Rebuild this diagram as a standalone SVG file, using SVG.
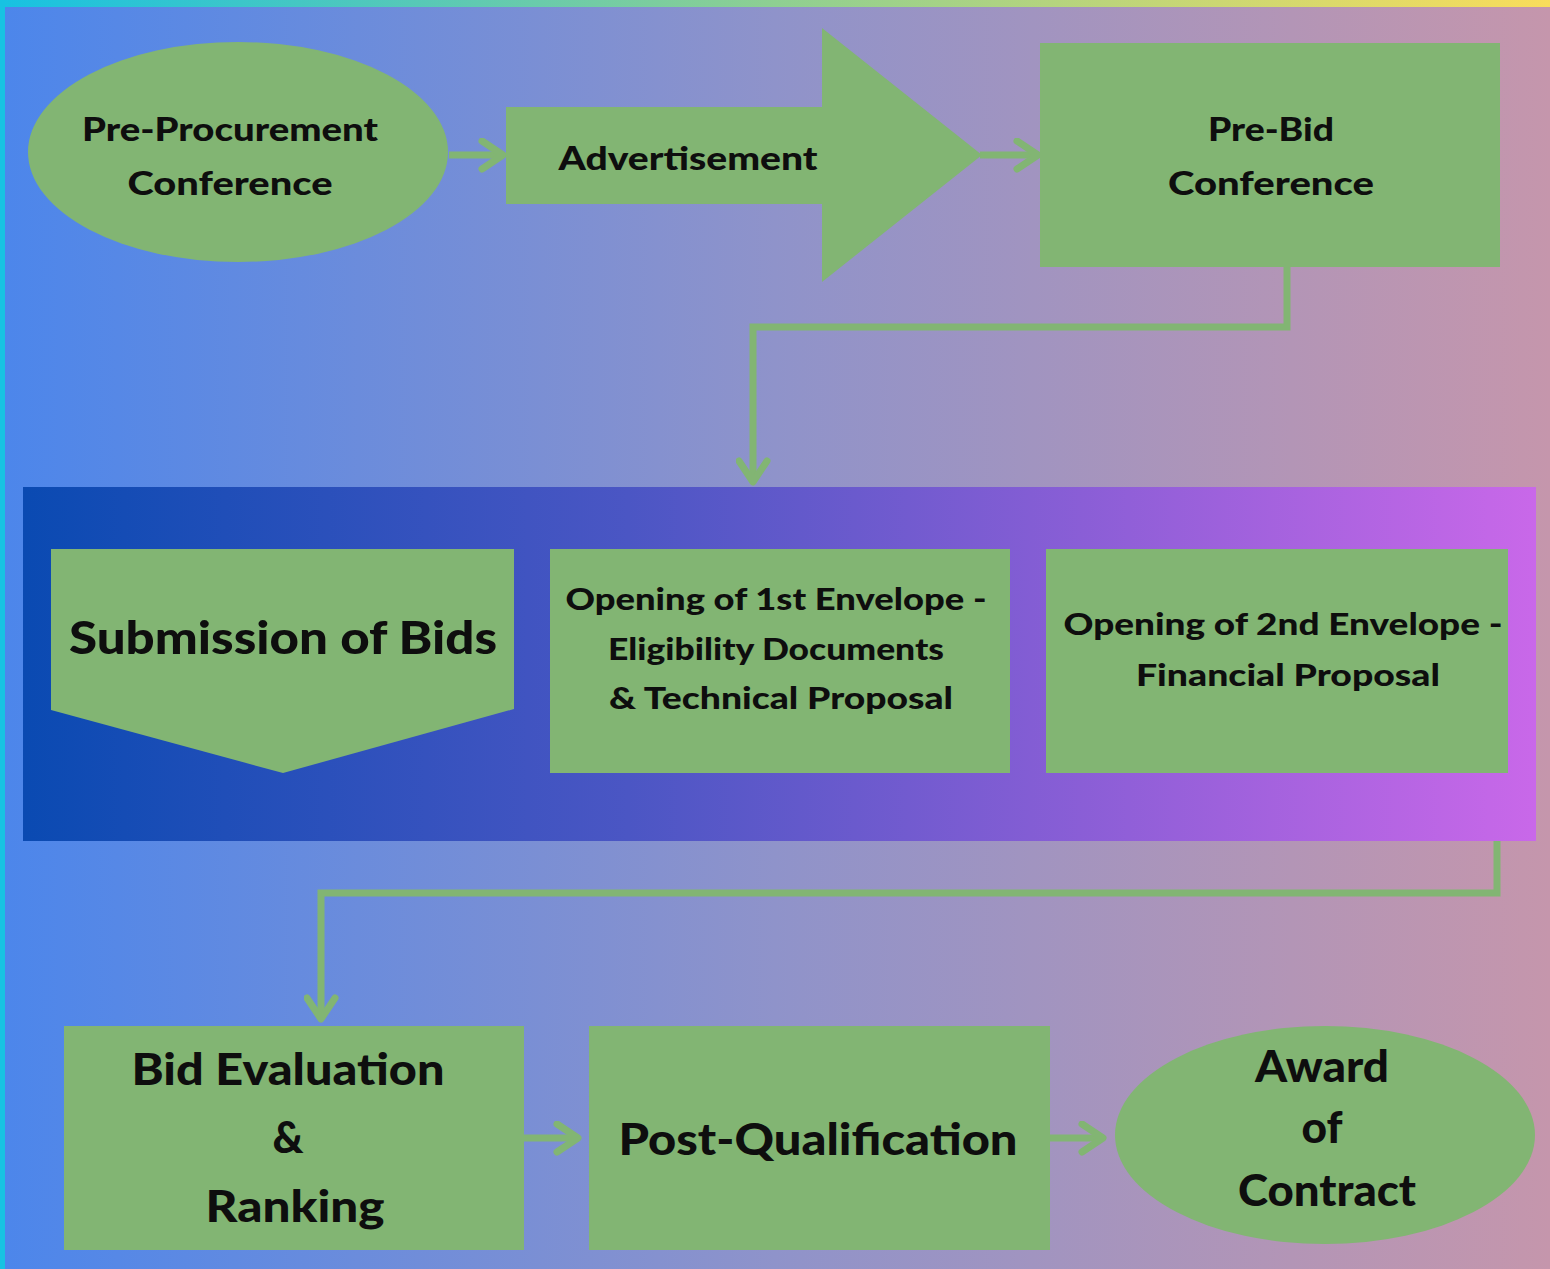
<svg xmlns="http://www.w3.org/2000/svg" width="1550" height="1269" viewBox="0 0 1550 1269">
<defs>
<linearGradient id="bg" x1="0" y1="0" x2="1" y2="0">
<stop offset="0" stop-color="#4C86EB"/>
<stop offset="0.5" stop-color="#8F93CA"/>
<stop offset="1" stop-color="#C596AC"/>
</linearGradient>
<linearGradient id="topbar" x1="0" y1="0" x2="1" y2="0">
<stop offset="0" stop-color="#17C2E2"/>
<stop offset="0.5" stop-color="#8ECF92"/>
<stop offset="1" stop-color="#F9DD5B"/>
</linearGradient>
<linearGradient id="band" x1="0" y1="0" x2="1" y2="0">
<stop offset="0" stop-color="#0A4AB2"/>
<stop offset="0.4" stop-color="#4B56C4"/>
<stop offset="0.7" stop-color="#8A5ED6"/>
<stop offset="1" stop-color="#C968E9"/>
</linearGradient>
<marker id="head" viewBox="0 0 20 20" refX="17" refY="10" markerWidth="5" markerHeight="5" markerUnits="strokeWidth" orient="auto">
<path d="M5,2 L17,10 L5,18" fill="none" stroke="#82B573" stroke-width="4" stroke-linecap="round" stroke-linejoin="round"/>
</marker>
</defs>
<style>
.n{fill:#82B573}
.c{fill:none;stroke:#82B573;stroke-width:7}
text{font-family:"Lato","Liberation Sans",sans-serif;font-weight:900;fill:#0E0E0E;text-anchor:middle}
.s30{font-size:32px}
.s29{font-size:30px}
.s42{font-size:44px}
.s44{font-size:46px}
</style>
<rect x="0" y="0" width="1550" height="1269" fill="url(#bg)"/>
<rect x="0" y="0" width="1550" height="7" fill="url(#topbar)"/>
<rect x="0" y="0" width="5" height="1269" fill="#17C2E2"/>
<rect x="23" y="487" width="1513" height="354" fill="url(#band)"/>

<g id="connectors">
<line class="c" x1="449" y1="155" x2="503" y2="155" marker-end="url(#head)"/>
<line class="c" x1="980" y1="155" x2="1038" y2="155" marker-end="url(#head)"/>
<polyline class="c" points="1287,267 1287,327 753,327 753,482" marker-end="url(#head)"/>
<polyline class="c" points="1497,841 1497,893 321,893 321,1019" marker-end="url(#head)"/>
<line class="c" x1="524" y1="1138" x2="578" y2="1138" marker-end="url(#head)"/>
<line class="c" x1="1050" y1="1138" x2="1103" y2="1138" marker-end="url(#head)"/>
</g>

<g id="pre-procurement">
<ellipse class="n" cx="238" cy="152" rx="210" ry="110"/>
<text class="s30" x="230" y="141" textLength="296" lengthAdjust="spacingAndGlyphs">Pre-Procurement</text>
<text class="s30" x="230" y="195" textLength="205" lengthAdjust="spacingAndGlyphs">Conference</text>
</g>

<g id="advertisement">
<path class="n" d="M506,107 H822 V28 L982,155 L822,282 V204 H506 Z"/>
<text class="s30" x="688" y="170" textLength="259" lengthAdjust="spacingAndGlyphs">Advertisement</text>
</g>

<g id="pre-bid">
<rect class="n" x="1040" y="43" width="460" height="224"/>
<text class="s30" x="1271" y="141" textLength="126" lengthAdjust="spacingAndGlyphs">Pre-Bid</text>
<text class="s30" x="1271" y="195" textLength="206" lengthAdjust="spacingAndGlyphs">Conference</text>
</g>

<g id="submission">
<path class="n" d="M51,549 H514 V709 L283,773 L51,710 Z"/>
<text class="s44" x="283" y="654" textLength="428" lengthAdjust="spacingAndGlyphs">Submission of Bids</text>
</g>

<g id="opening-1">
<rect class="n" x="550" y="549" width="460" height="224"/>
<text class="s29" x="776" y="610" textLength="421" lengthAdjust="spacingAndGlyphs">Opening of 1st Envelope -</text>
<text class="s29" x="776" y="660" textLength="336" lengthAdjust="spacingAndGlyphs">Eligibility Documents</text>
<text class="s29" x="781" y="709" textLength="344" lengthAdjust="spacingAndGlyphs">&amp; Technical Proposal</text>
</g>

<g id="opening-2">
<rect class="n" x="1046" y="549" width="462" height="224"/>
<text class="s29" x="1283" y="635" textLength="439" lengthAdjust="spacingAndGlyphs">Opening of 2nd Envelope -</text>
<text class="s29" x="1288" y="686" textLength="304" lengthAdjust="spacingAndGlyphs">Financial Proposal</text>
</g>

<g id="bid-evaluation">
<rect class="n" x="64" y="1026" width="460" height="224"/>
<text class="s42" x="288" y="1085" textLength="313" lengthAdjust="spacingAndGlyphs">Bid Evaluation</text>
<text class="s42" x="288" y="1153" textLength="31" lengthAdjust="spacingAndGlyphs">&amp;</text>
<text class="s42" x="295" y="1222" textLength="179" lengthAdjust="spacingAndGlyphs">Ranking</text>
</g>

<g id="post-qualification">
<rect class="n" x="589" y="1026" width="461" height="224"/>
<text class="s42" x="818" y="1155" textLength="399" lengthAdjust="spacingAndGlyphs">Post-Qualification</text>
</g>

<g id="award">
<ellipse class="n" cx="1325" cy="1135" rx="210" ry="109"/>
<text class="s42" x="1322" y="1082" textLength="134" lengthAdjust="spacingAndGlyphs">Award</text>
<text class="s42" x="1322" y="1143" textLength="41" lengthAdjust="spacingAndGlyphs">of</text>
<text class="s42" x="1327" y="1206" textLength="178" lengthAdjust="spacingAndGlyphs">Contract</text>
</g>
</svg>
